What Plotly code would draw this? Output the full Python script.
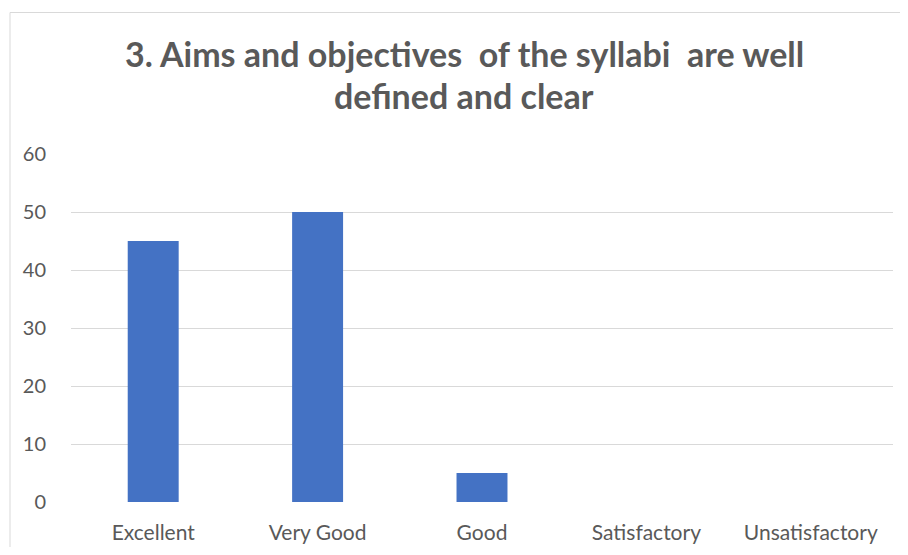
import plotly.graph_objects as go

categories = ["Excellent", "Very Good", "Good", "Satisfactory", "Unsatisfactory"]
values = [45, 50, 5, 0, 0]
y_ticks = [0, 10, 20, 30, 40, 50, 60]
title_lines = ["3. Aims and objectives \u00a0of the syllabi \u00a0are well", "defined and clear"]

FONT = "Lato, Calibri, Carlito, sans-serif"
TXT = "#595959"

fig = go.Figure(go.Bar(x=categories, y=values, marker_color="#4472C4", marker_line_width=0))

OFF = 8  # page body margin
W, H = 900, 539
L, R, T, B = 71 - OFF, 15, 154 - OFF, 45
pw, ph = W - L - R, H - T - B

def px_x(x):
    return (x - OFF - L) / pw

def px_y(y):
    return (H - B - (y - OFF)) / ph

fig.update_layout(
    width=W, height=H,
    margin=dict(l=L, r=R, t=T, b=B, autoexpand=False),
    paper_bgcolor="white", plot_bgcolor="white",
    bargap=0.69,
    showlegend=False,
    font=dict(family=FONT, color=TXT, size=21),
    xaxis=dict(showgrid=False, zeroline=False, showline=False, automargin=False,
               ticks="outside", ticklen=12, tickcolor="rgba(0,0,0,0)",
               tickfont=dict(size=21, color=TXT)),
    yaxis=dict(range=[0, 60], tickvals=y_ticks, showgrid=True, gridcolor="#D9D9D9",
               gridwidth=1, zeroline=False, showline=False, automargin=False,
               ticks="outside", ticklen=20, tickcolor="rgba(0,0,0,0)",
               tickfont=dict(size=20, color=TXT)),
    shapes=[dict(type="rect", xref="paper", yref="paper",
                 x0=px_x(10), x1=px_x(W + 40), y0=px_y(H + 60), y1=px_y(12.5),
                 line=dict(color="#D9D9D9", width=1), fillcolor="rgba(0,0,0,0)", layer="below")],
    annotations=[
        dict(text="<b>%s</b>" % title_lines[0], xref="paper", yref="paper",
             x=px_x(464), y=px_y(53), xanchor="center", yanchor="middle",
             showarrow=False, font=dict(family=FONT, size=34, color=TXT)),
        dict(text="<b>%s</b>" % title_lines[1], xref="paper", yref="paper",
             x=px_x(464), y=px_y(96), xanchor="center", yanchor="middle",
             showarrow=False, font=dict(family=FONT, size=34, color=TXT)),
    ],
)

fig.write_html("out.html")
